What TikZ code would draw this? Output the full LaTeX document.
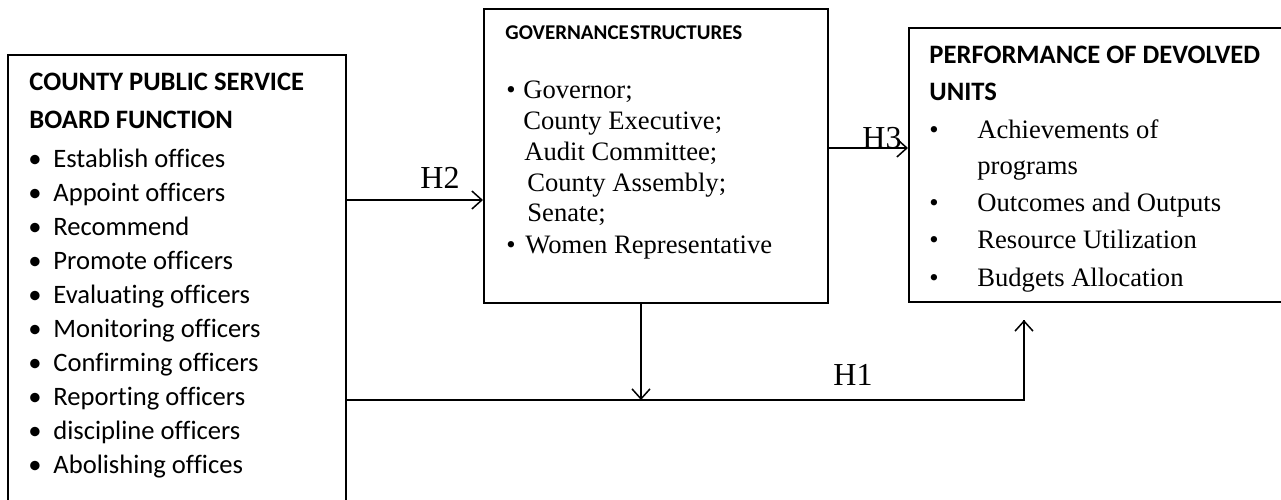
\documentclass[tikz,border=0pt]{standalone}
\usepackage{fontspec}
\setmainfont{Liberation Serif}
\setsansfont{Carlito}[Ligatures=CommonOff]
\usetikzlibrary{arrows.meta}
\tikzset{
  box/.style={draw, line width=0.85pt, rectangle, inner sep=0pt, anchor=north west},
  arr/.style={line width=0.85pt, -{Straight Barb[length=5pt,width=9pt,line width=0.75pt]}},
  conn/.style={line width=0.85pt},
  txt/.style={inner sep=0pt, anchor=base west},
  sanst/.style={txt, font=\sffamily\bfseries\fontsize{13.3}{15}\selectfont},
  sanssm/.style={txt, font=\sffamily\bfseries\fontsize{10.5}{12}\selectfont},
  sansi/.style={txt, font=\sffamily\fontsize{13.3}{15}\selectfont},
  seri/.style={txt, font=\rmfamily\fontsize{13.3}{15}\selectfont},
  lbl/.style={txt, font=\rmfamily\fontsize{16}{18}\selectfont},
}
\begin{document}
\begin{tikzpicture}[x=0.5pt,y=-0.5pt]
\clip (0,0) rectangle (1281,499);
\fill[white] (0,0) rectangle (1281,499);
% boxes
\node[box, minimum width=169pt, minimum height=233pt] (cps) at (7,54) {};
\node[box, minimum width=172pt, minimum height=147pt] (gov) at (483,8) {};
\node[box, minimum width=196pt, minimum height=137pt] (perf) at (908,27) {};
% left box text
\node[sanst] (t1a) at (29,90) {COUNTY PUBLIC SERVICE};
\node[sanst] (t1b) at (29,128) {BOARD FUNCTION};
\foreach \t [count=\i from 0] in {Establish offices, Appoint officers, Recommend, Promote officers, Evaluating officers, Monitoring officers, Confirming officers, Reporting officers, discipline officers, Abolishing offices}{
  \node[sansi] (lb\i) at (28,167+34*\i) {•};
  \node[sansi] (li\i) at (53,167+34*\i) {\t};
}
% middle box text
\node[sanssm] (t2) at (505,39) {GOVERNANCE\hspace{0.06em}STRUCTURES};
\node[seri] (gb1) at (506,98) {•};
\node[seri] (g1) at (523,98) {Governor;};
\node[seri] (g2) at (523,129) {County Executive;};
\node[seri] (g3) at (524,160) {Audit Committee;};
\node[seri] (g4) at (527,191) {County Assembly;};
\node[seri] (g5) at (527,221) {Senate;};
\node[seri] (gb6) at (506,253) {•};
\node[seri] (g6) at (525,253) {Women Representative};
% right box text
\node[sanst] (t3a) at (929,63) {PERFORMANCE OF DEVOLVED};
\node[sanst] (t3b) at (929,100) {UNITS};
\node[seri] (pb1) at (929,138) {•};
\node[seri] (p1) at (977,138) {Achievements of};
\node[seri] (p1b) at (977,174) {programs};
\node[seri] (pb2) at (929,211) {•};
\node[seri] (p2) at (977,211) {Outcomes and Outputs};
\node[seri] (pb3) at (929,248) {•};
\node[seri] (p3) at (977,248) {Resource Utilization};
\node[seri] (pb4) at (929,286) {•};
\node[seri] (p4) at (977,286) {Budgets Allocation};
% connectors
\coordinate (h2) at (0,200);
\coordinate (h3) at (0,148);
\coordinate (h1) at (0,400);
\coordinate (dn) at (641,400);
\coordinate (h1end) at (1024,320);
\draw[arr] (cps.east |- h2) -- (gov.west |- h2);
\draw[arr] (gov.east |- h3) -- (perf.west |- h3);
\draw[arr] (gov.south -| dn) -- (dn);
\draw[conn] (cps.east |- h1) -| (h1end);
\draw[arr] (h1 -| h1end) -- (h1end);
% labels
\node[lbl] (L2) at (420,188) {H2};
\node[lbl] (L3) at (862,148) {H3};
\node[lbl] (L1) at (833,385) {H1};
\end{tikzpicture}
\end{document}
